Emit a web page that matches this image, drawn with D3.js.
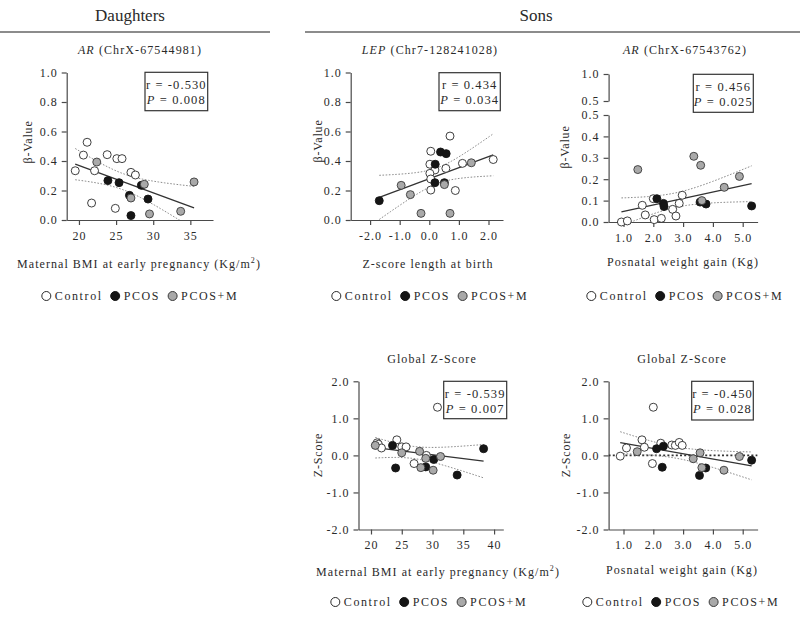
<!DOCTYPE html>
<html><head><meta charset="utf-8">
<script src="https://cdn.jsdelivr.net/npm/d3@7"></script>
<style>
body{margin:0;background:#fff}
text{font-family:"Liberation Serif","Times New Roman",serif;fill:#2a2a2a}
</style>
</head><body><svg id="c" width="800" height="617"></svg>
<script>
// ---------------- DATA ----------------
const groups = ["Control", "PCOS", "PCOS+M"];

// Daughters: AR (ChrX-67544981) vs maternal BMI
const daughtersAR_Control = [[19.5,0.334],[20.6,0.44],[21.1,0.527],[22.1,0.334],[21.7,0.115],[23.8,0.443],[25.1,0.416],[25.8,0.416],[24.9,0.079],[27.0,0.323],[27.6,0.305]];
const daughtersAR_PCOS    = [[23.9,0.267],[25.4,0.253],[26.8,0.167],[27.0,0.03],[28.4,0.235],[29.3,0.142]];
const daughtersAR_PCOSM   = [[22.4,0.393],[27.0,0.149],[28.8,0.242],[29.5,0.041],[33.7,0.059],[35.5,0.258]];

// Sons: LEP (Chr7-128241028) vs Z-score length at birth
const sonsLEP_Control = [[0.05,0.466],[0.70,0.569],[0.02,0.378],[0.19,0.339],[0.02,0.316],[0.05,0.278],[0.56,0.35],[1.12,0.384],[2.16,0.41],[0.05,0.203],[0.88,0.20]];
const sonsLEP_PCOS    = [[-1.69,0.131],[0.20,0.378],[0.38,0.461],[0.57,0.45],[0.19,0.253],[0.51,0.253]];
const sonsLEP_PCOSM   = [[-0.95,0.235],[-0.64,0.172],[-0.28,0.045],[0.51,0.24],[0.70,0.045],[1.42,0.388]];

// Sons: AR (ChrX-67543762) vs postnatal weight gain
const sonsAR_Control = [[0.93,0.0],[1.13,0.005],[1.63,0.078],[1.73,0.033],[2.0,0.109],[2.03,0.011],[2.27,0.017],[2.65,0.059],[2.76,0.028],[2.87,0.087],[2.97,0.125]];
const sonsAR_PCOS    = [[2.12,0.109],[2.34,0.087],[2.36,0.072],[3.57,0.093],[3.77,0.084],[5.30,0.075]];
const sonsAR_PCOSM   = [[1.48,0.245],[3.36,0.307],[3.59,0.265],[3.63,0.10],[4.38,0.162],[4.89,0.213]];

// Sons: Global Z-score vs maternal BMI
const sonsZbmi_Control = [[20.8,0.28],[21.0,0.34],[21.2,0.30],[21.7,0.20],[24.2,0.42],[25.0,0.23],[25.7,0.23],[27.0,-0.22],[29.0,0.0],[30.8,1.30]];
const sonsZbmi_PCOS    = [[23.5,0.27],[24.0,-0.34],[28.9,-0.31],[30.2,-0.11],[34.0,-0.53],[38.3,0.18]];
const sonsZbmi_PCOSM   = [[20.7,0.27],[25.0,0.07],[27.9,0.11],[28.1,-0.33],[28.9,-0.08],[30.1,-0.40],[31.3,-0.03]];

// Sons: Global Z-score vs postnatal weight gain
const sonsZwg_Control = [[0.89,-0.02],[1.10,0.20],[1.62,0.42],[1.70,0.22],[2.0,1.30],[1.97,-0.22],[2.25,0.33],[2.62,0.28],[2.74,0.27],[2.87,0.35],[2.97,0.27]];
const sonsZwg_PCOS    = [[2.11,0.18],[2.34,0.25],[2.30,-0.32],[3.55,-0.54],[3.76,-0.34],[5.30,-0.13]];
const sonsZwg_PCOSM   = [[1.46,0.10],[3.34,-0.09],[3.57,0.07],[3.63,-0.33],[4.37,-0.40],[4.89,-0.03]];

const stats = [["-0.530","0.008"],["0.434","0.034"],["0.456","0.025"],["-0.539","0.007"],["-0.450","0.028"]];
const bmiTicks = [20,25,30,35];
const bmiTicks2 = [20,25,30,35,40];
const lengthTicks = [-2,-1,0,1,2];
const gainTicks = [1,2,3,4,5];
const betaTicks = [0,0.2,0.4,0.6,0.8,1.0];
const betaLowTicks = [0,0.1,0.2,0.3,0.4,0.5];
const betaTopTicks = [0.5,1.0];
const zTicks = [-2,-1,0,1,2];

// ---------------- HELPERS ----------------
const svg = d3.select("#c");
const fills = ["#ffffff", "#151515", "#a9a9a9"];
const strokes = ["#2a2a2a", "#151515", "#3a3a3a"];
const AX = "#4a4a4a";

function tcrit(df){const z=1.959964;return z+(z**3+z)/(4*df)+(5*z**5+16*z**3+3*z)/(96*df*df);}
function regression(pts){
  const n=pts.length, mx=d3.mean(pts,d=>d[0]), my=d3.mean(pts,d=>d[1]);
  let sxx=0,sxy=0; pts.forEach(([x,y])=>{sxx+=(x-mx)**2;sxy+=(x-mx)*(y-my);});
  const b=sxy/sxx, a=my-b*mx; let sse=0; pts.forEach(([x,y])=>{sse+=(y-a-b*x)**2;});
  return {a,b,mx,sxx,n,s:Math.sqrt(sse/(n-2)),t:tcrit(n-2),x0:d3.min(pts,d=>d[0]),x1:d3.max(pts,d=>d[0])};
}

function styleAxis(g){
  g.select(".domain").attr("stroke",AX).attr("stroke-width",1.2);
  g.selectAll(".tick line").attr("stroke",AX).attr("stroke-width",1.2);
  g.selectAll(".tick text").style("font-family",'"Liberation Serif",serif').style("font-size","12px").style("letter-spacing","1px").attr("fill","#2a2a2a");
}

function panel(cfg, idx){
  const g = svg.append("g");
  const x = d3.scaleLinear().domain(cfg.xDom).range(cfg.xRange);
  const y = d3.scaleLinear().domain(cfg.yDom).range(cfg.yRange);
  const yBottom = cfg.yRange[0], yTop = cfg.yRange[1];

  // axes
  const xa = g.append("g").attr("transform",`translate(0,${yBottom})`)
    .call(d3.axisBottom(x).tickValues(cfg.xTicks).tickFormat(cfg.xFmt).tickSize(5).tickSizeOuter(0).tickPadding(6));
  styleAxis(xa);
  const ya = g.append("g").attr("transform",`translate(${cfg.xRange[0]},0)`)
    .call(d3.axisLeft(y).tickValues(cfg.yTicks).tickFormat(cfg.yFmt).tickSize(5).tickSizeOuter(0).tickPadding(4));
  styleAxis(ya);
  if (cfg.yTop){
    const y2 = d3.scaleLinear().domain(cfg.yTop.dom).range(cfg.yTop.range);
    const ya2 = g.append("g").attr("transform",`translate(${cfg.xRange[0]},0)`)
      .call(d3.axisLeft(y2).tickValues(cfg.yTop.ticks).tickFormat(f1).tickSize(5).tickSizeOuter(0).tickPadding(4));
    styleAxis(ya2);
  }

  // clip
  const cid = "clip"+idx;
  g.append("clipPath").attr("id",cid).append("rect")
    .attr("x",cfg.xRange[0]).attr("y",yTop-20).attr("width",cfg.xRange[1]-cfg.xRange[0]).attr("height",yBottom-yTop+20);

  const all = [].concat(...cfg.series);
  const r = regression(all);
  const xs = d3.range(0,61).map(i=>r.x0+(r.x1-r.x0)*i/60);
  const ci = s => xs.map(v=>{const yh=r.a+r.b*v; const se=r.s*Math.sqrt(1/r.n+(v-r.mx)**2/r.sxx); return [v, yh+s*r.t*se];});
  const line = d3.line().x(d=>x(d[0])).y(d=>y(d[1]));
  const lg = g.append("g").attr("clip-path",`url(#${cid})`);

  if (cfg.zeroLine){
    lg.append("line").attr("x1",cfg.xRange[0]).attr("x2",cfg.xRange[1]).attr("y1",y(0)).attr("y2",y(0))
      .attr("stroke","#333").attr("stroke-width",1.6).attr("stroke-dasharray","2,2.2");
  }
  [1,-1].forEach(s=>lg.append("path").attr("d",line(ci(s))).attr("fill","none").attr("stroke","#8a8a8a").attr("stroke-width",1).attr("stroke-dasharray","1.6,1.6"));
  lg.append("path").attr("d",line([[r.x0,r.a+r.b*r.x0],[r.x1,r.a+r.b*r.x1]])).attr("fill","none").attr("stroke","#333").attr("stroke-width",1.3);

  // points
  cfg.series.forEach((pts,k)=>{
    g.append("g").selectAll("circle").data(pts).join("circle")
      .attr("cx",d=>x(d[0])).attr("cy",d=>y(d[1])).attr("r",4)
      .attr("fill",fills[k]).attr("stroke",strokes[k]).attr("stroke-width",0.9);
  });

  // stats box
  const [bx,by,bw,bh] = cfg.box;
  g.append("rect").attr("x",bx).attr("y",by).attr("width",bw).attr("height",bh)
    .attr("fill","#fff").attr("stroke","#333").attr("stroke-width",1.2);
  const t1 = g.append("text").attr("x",bx+bw/2).attr("y",by+16.5).attr("text-anchor","middle")
    .style("font-size","12.5px").style("letter-spacing","1.1px");
  t1.text("r = "+stats[idx][0]);
  const t2 = g.append("text").attr("x",bx+bw/2).attr("y",by+31.5).attr("text-anchor","middle")
    .style("font-size","12.5px").style("letter-spacing","1.1px");
  t2.append("tspan").style("font-style","italic").text("P");
  t2.append("tspan").text(" = "+stats[idx][1]);

  // title
  const tt = g.append("text").attr("x",cfg.title.x).attr("y",cfg.title.y).attr("text-anchor","middle")
    .style("font-size","12px").style("letter-spacing","1.1px");
  if (cfg.title.it) tt.append("tspan").style("font-style","italic").text(cfg.title.it);
  tt.append("tspan").text(cfg.title.rest);

  // y label
  g.append("text").attr("transform",`translate(${cfg.yLab.x},${cfg.yLab.y}) rotate(-90)`).attr("text-anchor","middle")
    .style("font-size","12px").style("letter-spacing","0.8px").text(cfg.yLab.t);

  // x label
  const xl = g.append("text").attr("x",cfg.xLab.x).attr("y",cfg.xLab.y).attr("text-anchor","middle")
    .style("font-size","12px").style("letter-spacing","1.05px");
  xl.append("tspan").text(cfg.xLab.t);
  if (cfg.xLab.sup){
    xl.append("tspan").attr("dy",-5).style("font-size","8px").text("2");
    xl.append("tspan").attr("dy",5).text(")");
  }

  // legend
  const leg = g.append("g");
  let cx = 0;
  groups.forEach((name,k)=>{
    leg.append("circle").attr("cx",cx+4.5).attr("cy",-4).attr("r",4.5).attr("fill",fills[k]).attr("stroke",strokes[k]).attr("stroke-width",1);
    const tx = leg.append("text").attr("x",cx+13).attr("y",0).style("font-size","12px").style("letter-spacing","1.6px").text(name);
    cx += 13 + tx.node().getComputedTextLength() + 8;
  });
  const lw = cx - 8;
  leg.attr("transform",`translate(${cfg.legend.x - lw/2},${cfg.legend.y})`);
}

const f1 = v => d3.format(".1f")(v).replace("\u2212","-");
const fd = d3.format("d");

panel({xDom:[18.35,38.05], xRange:[66.7,213], yDom:[0,1], yRange:[220,72.5],
  xTicks:bmiTicks, xFmt:fd, yTicks:betaTicks, yFmt:f1,
  series:[daughtersAR_Control,daughtersAR_PCOS,daughtersAR_PCOSM],
  box:[145,72.3,62.7,38.4], title:{x:140,y:54,it:"AR",rest:" (ChrX-67544981)"},
  yLab:{x:32,y:142,t:"β-Value"}, xLab:{x:139,y:268,t:"Maternal BMI at early pregnancy (Kg/m",sup:true},
  legend:{x:140,y:300}}, 0);

panel({xDom:[-2.655,2.49], xRange:[350.7,503], yDom:[0,1], yRange:[220,72.5],
  xTicks:lengthTicks, xFmt:f1, yTicks:betaTicks, yFmt:f1,
  series:[sonsLEP_Control,sonsLEP_PCOS,sonsLEP_PCOSM],
  box:[439,72.7,61.3,38], title:{x:430,y:54,it:"LEP",rest:" (Chr7-128241028)"},
  yLab:{x:322,y:141,t:"β-Value"}, xLab:{x:428,y:268,t:"Z-score length at birth"},
  legend:{x:430,y:300}}, 1);

panel({xDom:[0.5,5.5], xRange:[608.6,757.6], yDom:[0,0.5], yRange:[222,115],
  xTicks:gainTicks, xFmt:f1, yTicks:betaLowTicks, yFmt:f1,
  yTop:{dom:[0.5,1], range:[101,74], ticks:betaTopTicks},
  series:[sonsAR_Control,sonsAR_PCOS,sonsAR_PCOSM],
  box:[693.3,74.3,60,38], title:{x:685,y:54,it:"AR",rest:" (ChrX-67543762)"},
  yLab:{x:569,y:147,t:"β-Value"}, xLab:{x:683,y:266,t:"Posnatal weight gain (Kg)"},
  legend:{x:685,y:300}}, 2);

panel({xDom:[17.97,41.5], xRange:[358.5,503.3], yDom:[-2,2], yRange:[529.5,381.3],
  xTicks:bmiTicks2, xFmt:fd, yTicks:zTicks, yFmt:f1,
  series:[sonsZbmi_Control,sonsZbmi_PCOS,sonsZbmi_PCOSM],
  box:[443.7,381.3,63,37.4], title:{x:432,y:363,rest:"Global Z-Score"},
  yLab:{x:322,y:455,t:"Z-Score"}, xLab:{x:438,y:576,t:"Maternal BMI at early pregnancy (Kg/m",sup:true},
  legend:{x:429,y:606}}, 3);

panel({xDom:[0.5,5.5], xRange:[608.6,757.6], yDom:[-2,2], yRange:[529.5,381.3],
  xTicks:gainTicks, xFmt:f1, yTicks:zTicks, yFmt:f1,
  series:[sonsZwg_Control,sonsZwg_PCOS,sonsZwg_PCOSM], zeroLine:true,
  box:[691.7,381.3,61.6,38.7], title:{x:682,y:363,rest:"Global Z-Score"},
  yLab:{x:570,y:455,t:"Z-Score"}, xLab:{x:682,y:573.5,t:"Posnatal weight gain (Kg)"},
  legend:{x:681,y:606}}, 4);

// headers
svg.append("text").attr("x",130).attr("y",21).attr("text-anchor","middle").style("font-size","17px").text("Daughters");
svg.append("text").attr("x",536).attr("y",21).attr("text-anchor","middle").style("font-size","17px").text("Sons");
svg.append("line").attr("x1",0).attr("x2",270).attr("y1",32).attr("y2",32).attr("stroke","#666").attr("stroke-width",1.3);
svg.append("line").attr("x1",305).attr("x2",800).attr("y1",32).attr("y2",32).attr("stroke","#666").attr("stroke-width",1.3);
</script></body></html>
